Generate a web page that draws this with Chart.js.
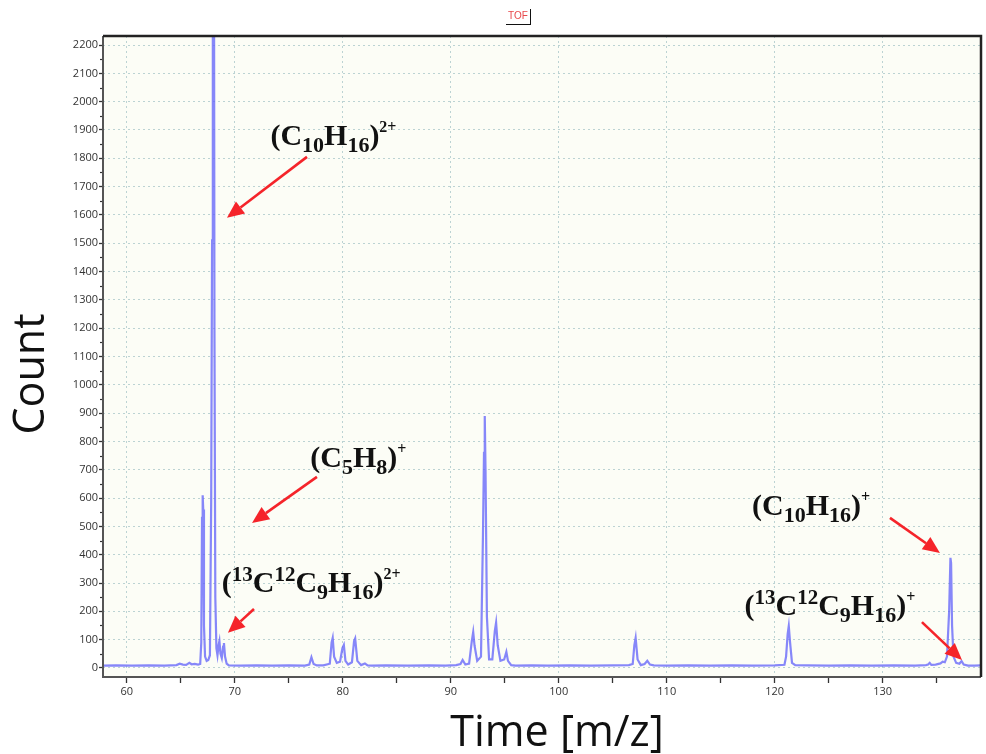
<!DOCTYPE html>
<html><head><meta charset="utf-8">
<script src="https://cdn.jsdelivr.net/npm/chart.js@4"></script>
<style>
html,body{margin:0;padding:0;background:#fff;}
#wrap{position:relative;width:986px;height:754px;}
#tof{position:absolute;left:506px;top:9px;font:10px 'Liberation Sans',Arial,sans-serif;color:#e8484b;border-bottom:1.5px solid #111;border-right:1.5px solid #111;padding:0 2px 1px 2px;line-height:14px;}
</style></head><body>
<div id="wrap"><canvas id="c" width="986" height="754"></canvas><div id="tof">TOF</div></div>
<script>
// ---- data ----
const mzValues = [
  57.8, 59, 60.5, 62, 63.5, 64.6, 64.9, 65.2, 65.5, 65.8, 66.0, 66.3, 66.6,
  66.8, 66.9, 66.97, 67.03, 67.08, 67.15, 67.25, 67.4, 67.55,
  67.7, 67.82, 67.9, 67.97, 68.05, 68.12, 68.2, 68.3, 68.4,
  68.5, 68.58, 68.68, 68.8, 68.92, 69.0, 69.1, 69.25, 69.45,
  70.5, 72, 73.5, 75, 76.5,
  76.9, 77.1, 77.3, 77.6, 78.2, 78.8, 78.97, 79.07, 79.2, 79.45, 79.75, 79.97, 80.1, 80.25, 80.5, 80.85, 81.05, 81.15, 81.35, 81.7, 82.05, 82.3, 82.7,
  84, 86, 88, 89.5, 90.5,
  90.9, 91.1, 91.35, 91.7, 91.95, 92.08, 92.2, 92.45, 92.8, 92.98, 93.08, 93.15, 93.22, 93.35, 93.55, 93.85, 94.08, 94.2, 94.35, 94.6, 94.95, 95.15, 95.3, 95.6, 96.0,
  97.5, 99, 101, 103, 105, 106.5,
  106.85, 107.0, 107.12, 107.3, 107.6, 107.95, 108.2, 108.45, 108.8,
  110, 112, 114, 116, 118, 120, 120.9,
  121.05, 121.2, 121.3, 121.42, 121.6, 121.9,
  123, 125, 127, 129, 131, 133, 134,
  134.2, 134.35, 134.5, 134.9, 135.35, 135.55, 135.75, 135.95, 136.15, 136.27, 136.33, 136.42, 136.55, 136.8, 137.1, 137.3, 137.5, 137.9, 138.5, 139.1
];
const counts = [
  8, 9, 8, 9, 8, 10, 15, 12, 11, 18, 13, 14, 12,
  14, 90, 530, 610, 560, 150, 40, 25, 28,
  45, 600, 1510, 3600, 3400, 1200, 250, 70, 45,
  80, 95, 50, 35, 75, 88, 40, 15, 9,
  8, 9, 8, 9, 8,
  12, 38, 14, 9, 9, 15, 90, 106, 40, 18, 22, 70, 81, 25, 12, 20, 95, 104, 25, 10, 16, 9, 8,
  9, 8, 9, 8, 10,
  14, 28, 12, 15, 95, 127, 80, 25, 40, 460, 760, 890, 700, 180, 30, 30, 130, 160, 80, 25, 30, 57, 25, 10, 8,
  9, 8, 9, 8, 9, 10,
  14, 80, 106, 30, 10, 14, 25, 12, 9,
  8, 9, 8, 9, 8, 9, 11,
  40, 120, 148, 90, 18, 10,
  9, 8, 9, 8, 9, 8, 10,
  12, 18, 11, 12, 16, 22, 20, 40, 200, 389, 370, 150, 40, 18, 15, 24, 12, 8, 8, 9
];
const xTicks = [60, 65, 70, 75, 80, 85, 90, 95, 100, 105, 110, 115, 120, 125, 130, 135];
const xLabelTicks = [60, 70, 80, 90, 100, 110, 120, 130];
const yTicks = [0, 100, 200, 300, 400, 500, 600, 700, 800, 900, 1000, 1100, 1200, 1300, 1400, 1500, 1600, 1700, 1800, 1900, 2000, 2100, 2200];
const yMinorTicks = [50, 150, 250, 350, 450, 550, 650, 750, 850, 950, 1050, 1150, 1250, 1350, 1450, 1550, 1650, 1750, 1850, 1950, 2050, 2150];
const xMin = 57.8, xMax = 139.1, yMin = -32, yMax = 2232;
const titleText = 'TOF';
const xTitle = 'Time [m/z]';
const yTitle = 'Count';

// annotations: formula segments (n = normal, b = subscript, p = small superscript, q = large superscript)
const annoSegments = [
  [['(C','n'],['10','b'],['H','n'],['16','b'],[')','n'],['2+','p']],
  [['(C','n'],['5','b'],['H','n'],['8','b'],[')','n'],['+','p']],
  [['(','n'],['13','q'],['C','n'],['12','q'],['C','n'],['9','b'],['H','n'],['16','b'],[')','n'],['2+','p']],
  [['(C','n'],['10','b'],['H','n'],['16','b'],[')','n'],['+','p']],
  [['(','n'],['13','q'],['C','n'],['12','q'],['C','n'],['9','b'],['H','n'],['16','b'],[')','n'],['+','p']]
];
const annoLabelPos = [[73.3, 1847], [77.0, 710], [68.8, 268], [117.9, 540], [117.2, 187]];
const annoArrowFrom = [[76.69, 1805], [77.61, 675], [71.78, 208], [130.67, 530], [133.63, 162]];
const annoArrowTo = [[69.28, 1590], [71.6, 512], [69.37, 124], [135.3, 406], [137.34, 28]];

document.getElementById('tof').textContent = titleText;

const gridColor = '#bcd3d3';
const segStyle = {
  n: {size: 30, dy: 0},
  b: {size: 22, dy: 7},
  p: {size: 16, dy: -13},
  q: {size: 21, dy: -11}
};

function drawFormula(ctx, segs, x, y) {
  let cx = x;
  ctx.fillStyle = '#111';
  ctx.textAlign = 'left';
  ctx.textBaseline = 'alphabetic';
  for (const [t, k] of segs) {
    const st = segStyle[k];
    ctx.font = `bold ${st.size}px 'Liberation Serif', 'Times New Roman', serif`;
    ctx.fillText(t, cx, y + st.dy);
    cx += ctx.measureText(t).width;
  }
}
function drawArrow(ctx, x1, y1, x2, y2) {
  const ang = Math.atan2(y2 - y1, x2 - x1);
  const hl = 17, hw = 7.5;
  const bx = x2 - hl * Math.cos(ang), by = y2 - hl * Math.sin(ang);
  ctx.strokeStyle = '#f5242a'; ctx.fillStyle = '#f5242a'; ctx.lineWidth = 2.6;
  ctx.beginPath(); ctx.moveTo(x1, y1); ctx.lineTo(bx, by); ctx.stroke();
  ctx.beginPath(); ctx.moveTo(x2, y2);
  ctx.lineTo(bx + hw * Math.sin(ang), by - hw * Math.cos(ang));
  ctx.lineTo(bx - hw * Math.sin(ang), by + hw * Math.cos(ang));
  ctx.closePath(); ctx.fill();
}

const decorPlugin = {
  id: 'decor',
  beforeDraw(chart) {
    const {ctx, chartArea: a} = chart;
    ctx.save();
    ctx.fillStyle = '#fcfdf6';
    ctx.fillRect(a.left, a.top, a.right - a.left, a.bottom - a.top);
    ctx.restore();
  },
  afterDraw(chart) {
    const {ctx, chartArea: a, scales} = chart;
    ctx.save();
    // minor y ticks
    ctx.strokeStyle = '#333'; ctx.lineWidth = 1.2;
    for (const v of yMinorTicks) {
      const py = Math.round(scales.y.getPixelForValue(v)) + 0.5;
      ctx.beginPath(); ctx.moveTo(a.left - 3, py); ctx.lineTo(a.left, py); ctx.stroke();
    }
    // frame
    ctx.strokeStyle = '#555'; ctx.lineWidth = 2;
    ctx.beginPath(); ctx.moveTo(a.left, a.top); ctx.lineTo(a.left, a.bottom); ctx.lineTo(a.right, a.bottom); ctx.stroke();
    ctx.strokeStyle = '#222'; ctx.lineWidth = 2.5;
    ctx.beginPath(); ctx.moveTo(a.left, a.top); ctx.lineTo(a.right, a.top); ctx.lineTo(a.right, a.bottom); ctx.stroke();
    // axis titles
    ctx.fillStyle = '#111';
    ctx.font = "43px 'Open Sans', sans-serif";
    ctx.textAlign = 'center'; ctx.textBaseline = 'alphabetic';
    ctx.fillText(xTitle, 557, 746);
    ctx.save();
    ctx.translate(44, 374); ctx.rotate(-Math.PI / 2);
    ctx.fillText(yTitle, 0, 0);
    ctx.restore();
    // annotations
    for (let i = 0; i < annoSegments.length; i++) {
      const [fx, fy] = annoArrowFrom[i], [tx, ty] = annoArrowTo[i];
      drawArrow(ctx, scales.x.getPixelForValue(fx), scales.y.getPixelForValue(fy),
                scales.x.getPixelForValue(tx), scales.y.getPixelForValue(ty));
      const [lx, ly] = annoLabelPos[i];
      drawFormula(ctx, annoSegments[i], scales.x.getPixelForValue(lx), scales.y.getPixelForValue(ly));
    }
    ctx.restore();
  }
};

new Chart(document.getElementById('c'), {
  type: 'line',
  data: {
    datasets: [{
      data: mzValues.map((m, i) => ({x: m, y: counts[i]})),
      borderColor: 'rgba(95,95,250,0.75)',
      borderWidth: 2.2,
      pointRadius: 0,
      tension: 0,
      fill: false
    }]
  },
  options: {
    responsive: false,
    animation: false,
    layout: {padding: {left: 0, right: 5, top: 36, bottom: 0}},
    plugins: {legend: {display: false}, tooltip: {enabled: false}, title: {display: false}},
    scales: {
      x: {
        type: 'linear', min: xMin, max: xMax,
        afterBuildTicks: s => { s.ticks = xTicks.map(v => ({value: v})); },
        afterFit: s => { s.height = 77; },
        ticks: {
          autoSkip: false, maxRotation: 0, padding: 2, color: '#333',
          font: {family: "'Open Sans', sans-serif", size: 11},
          callback: v => (xLabelTicks.includes(v) ? String(v) : '')
        },
        grid: {
          color: c => (c.tick && xLabelTicks.includes(c.tick.value)) ? gridColor : 'rgba(0,0,0,0)',
          lineWidth: 1, tickColor: '#333', tickLength: 6, tickWidth: 1.3, drawTicks: true
        },
        border: {display: true, width: 0, dash: [2, 3]}
      },
      y: {
        type: 'linear', min: yMin, max: yMax,
        afterBuildTicks: s => { s.ticks = yTicks.map(v => ({value: v})); },
        afterFit: s => { s.width = 103; },
        ticks: {
          autoSkip: false, padding: 1, color: '#333',
          font: {family: "'Open Sans', sans-serif", size: 11},
          callback: v => String(v)
        },
        grid: {color: gridColor, lineWidth: 1, tickColor: '#333', tickLength: 4, tickWidth: 1.3},
        border: {display: true, width: 0, dash: [2, 3]}
      }
    }
  },
  plugins: [decorPlugin]
});
</script>
</body></html>
